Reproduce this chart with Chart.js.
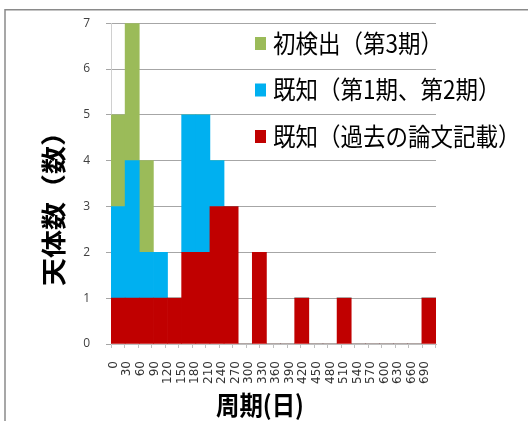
<!DOCTYPE html>
<html lang="ja">
<head>
  <meta charset="UTF-8">
  <title>周期分布</title>
  <script src="https://cdn.jsdelivr.net/npm/chart.js"></script>
  <style>
    html, body { margin: 0; padding: 0; background: #fff; }
    canvas { display: block; }
  </style>
</head>
<body>
  <canvas id="graficoPeriodos" width="528" height="421"></canvas>

  <script>
    // 30日刻みのビン(開始値)
    const binStarts = [0, 30, 60, 90, 120, 150, 180, 210, 240, 270, 300, 330, 360, 390, 420, 450, 480, 510, 540, 570, 600, 630, 660];
    // 横軸の目盛り(ビンの境界)
    const tickValues = [0, 30, 60, 90, 120, 150, 180, 210, 240, 270, 300, 330, 360, 390, 420, 450, 480, 510, 540, 570, 600, 630, 660, 690];

    // 各ビンの天体数
    const pastPapers    = [1, 1, 1, 1, 1, 2, 2, 3, 3, 0, 2, 0, 0, 1, 0, 0, 1, 0, 0, 0, 0, 0, 1];
    const knownEarly    = [2, 3, 1, 1, 0, 3, 3, 1, 0, 0, 0, 0, 0, 0, 0, 0, 0, 0, 0, 0, 0, 0, 0];
    const newDetections = [2, 3, 2, 0, 0, 0, 0, 0, 0, 0, 0, 0, 0, 0, 0, 0, 0, 0, 0, 0, 0, 0, 0];

    const seriesNames  = ['既知（過去の論文記載）', '既知（第1期、第2期）', '初検出（第3期）'];
    const seriesColors = ['#C00000', '#00B0F0', '#9BBB59'];

    const xTitle = '周期(日)';
    const yTitle = '天体数（数）';

    // 外枠と白背景
    const marco = {
      id: 'marco',
      beforeDraw(chart) {
        const ctx = chart.ctx;
        ctx.save();
        ctx.fillStyle = '#fff';
        ctx.fillRect(0, 0, chart.width, chart.height);
        ctx.strokeStyle = '#8a8a8a';
        ctx.lineWidth = 1.5;
        ctx.beginPath();
        ctx.moveTo(5, chart.height);
        ctx.lineTo(5, 9.75);
        ctx.lineTo(chart.width, 9.75);
        ctx.stroke();
        ctx.restore();
      }
    };

    // 軸タイトルと凡例
    const textos = {
      id: 'textos',
      afterDraw(chart) {
        const ctx = chart.ctx;
        ctx.fillStyle = '#000';
        ctx.textBaseline = 'middle';

        ctx.save();
        ctx.font = 'bold 26px "Noto Sans CJK JP"';
        ctx.textAlign = 'center';
        ctx.translate(260, 405);
        ctx.scale(0.9, 1);
        ctx.fillText(xTitle, 0, 0);
        ctx.restore();

        ctx.save();
        ctx.font = 'bold 28px "Noto Sans CJK JP"';
        ctx.textAlign = 'center';
        ctx.translate(53, 202);
        ctx.scale(0.9, 1);
        ctx.rotate(-Math.PI / 2);
        ctx.fillText(yTitle, 0, 0);
        ctx.restore();

        const sets = chart.data.datasets.slice().reverse();
        sets.forEach((ds, i) => {
          const cy = 43 + i * 46.5;
          ctx.save();
          ctx.fillStyle = ds.backgroundColor;
          ctx.fillRect(255, cy - 6, 11, 13);
          ctx.fillStyle = '#000';
          ctx.font = '25px "Noto Sans CJK JP"';
          ctx.textAlign = 'left';
          ctx.translate(273, cy);
          ctx.scale(0.9, 1);
          ctx.fillText(ds.label, 0, 0);
          ctx.restore();
        });
      }
    };

    const series = [pastPapers, knownEarly, newDetections];

    new Chart(document.getElementById('graficoPeriodos'), {
      type: 'bar',
      data: {
        labels: binStarts,
        datasets: series.map((d, i) => ({
          label: seriesNames[i],
          data: d,
          backgroundColor: seriesColors[i],
          borderWidth: 0,
          barPercentage: 1,
          categoryPercentage: 1,
          xAxisID: 'x',
          yAxisID: 'y'
        }))
      },
      options: {
        responsive: false,
        animation: false,
        layout: { padding: { top: 21, right: 92, left: 0, bottom: 0 } },
        plugins: {
          legend: { display: false },
          tooltip: { enabled: false }
        },
        scales: {
          x: {
            type: 'category',
            stacked: true,
            display: false,
            offset: true
          },
          xTicks: {
            type: 'linear',
            position: 'bottom',
            min: 0,
            max: 690,
            afterBuildTicks: scale => {
              scale.ticks = tickValues.map(v => ({ value: v }));
            },
            ticks: {
              autoSkip: false,
              minRotation: 90,
              maxRotation: 90,
              padding: 13,
              labelOffset: -4,
              color: '#333',
              font: { family: 'DejaVu Sans', size: 12 }
            },
            grid: { drawOnChartArea: false, tickLength: 4, color: '#bfbfbf' },
            border: { color: '#bfbfbf' },
            afterFit: scale => { scale.height = 77; }
          },
          y: {
            stacked: true,
            min: 0,
            max: 7,
            ticks: {
              stepSize: 1,
              padding: 16,
              color: '#404040',
              font: { family: 'Open Sans', size: 12 }
            },
            grid: { color: '#a6a6a6', tickLength: 5 },
            border: { color: '#d0d0d0' },
            afterFit: scale => { scale.width = 111; }
          }
        }
      },
      plugins: [marco, textos]
    });
  </script>
</body>
</html>
